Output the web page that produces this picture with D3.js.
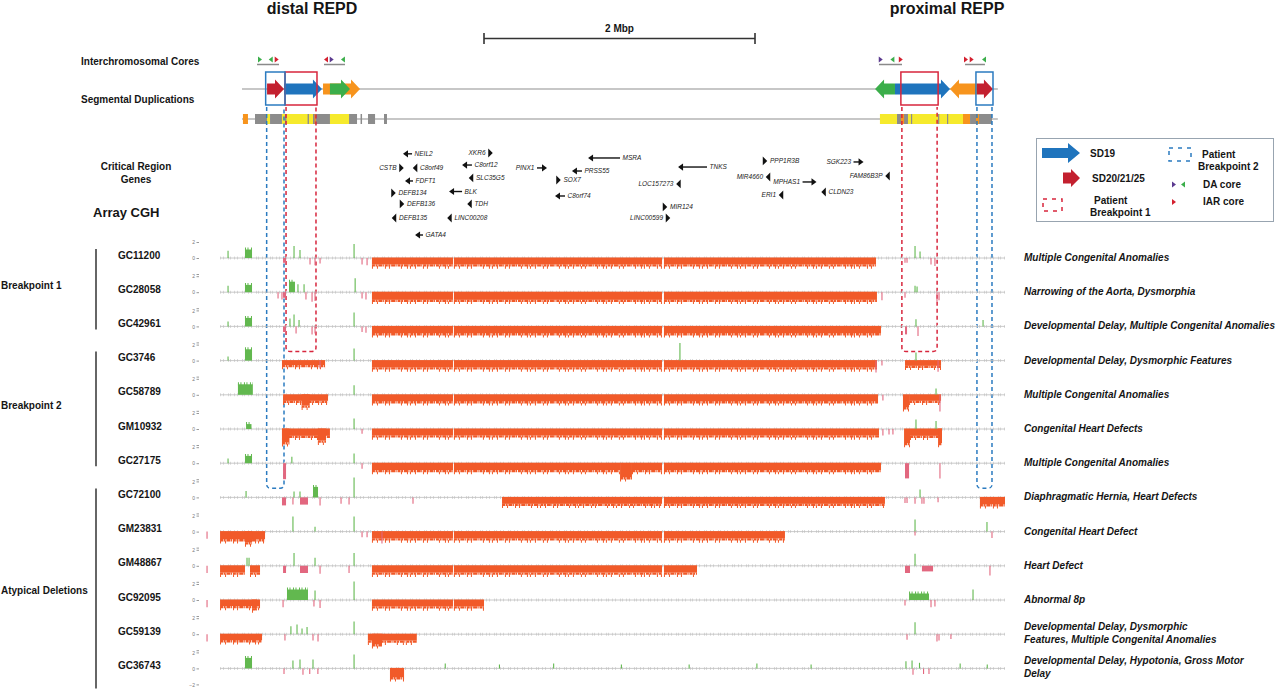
<!DOCTYPE html>
<html lang="en">
<head>
<meta charset="UTF-8">
<title>8p23.1 REPD / REPP breakpoints and array CGH</title>
<script src="https://d3js.org/d3.v7.min.js"></script>
<style>
  body { margin: 0; background: #fff; }
  svg { display: block; font-family: Arial, "Liberation Sans", sans-serif; }
  .lbl { font-weight: bold; fill: #151515; }
  .gene { font-style: italic; font-size: 6.5px; fill: #222; }
  .pheno { font-weight: bold; font-style: italic; font-size: 10px; fill: #151515; }
  .trk .tick text { font-size: 5px; fill: #777; }
  .trk .tick line { stroke: #999; }
</style>
</head>
<body>
<svg width="1280" height="693"></svg>
<script>
// ---- data (positions in Mb on chr8) ----
const scaleBar = [8.786, 10.786];
const backbone = [7.0, 12.578];

// segmental duplications: [start, end, direction, family]
const sdArrows = [
  [7.598, 7.871, 1, "orange"],
  [7.649, 7.797, 1, "green"],
  [7.185, 7.310, 1, "SD20/21/25"],
  [7.310, 7.590, 1, "SD19"],
  [11.672, 11.819, -1, "green"],
  [11.819, 12.225, 1, "SD19"],
  [12.225, 12.424, -1, "orange"],
  [12.424, 12.542, 1, "SD20/21/25"]
];

// duplicon blocks under the SD line: [start, end, kind]
const sdBlocks = [
  [7.007, 7.044, "o"], [7.096, 7.185, "g"], [7.185, 7.207, "y"], [7.207, 7.295, "g"],
  [7.295, 7.790, "y"], [7.317, 7.328, "g"], [7.484, 7.494, "g"], [7.524, 7.649, "g"],
  [7.535, 7.545, "o"], [7.790, 7.849, "g"], [7.875, 7.886, "g"], [7.930, 7.982, "g"],
  [8.048, 8.070, "g"],
  [11.708, 11.834, "y"], [11.834, 11.915, "g"], [11.863, 11.886, "o"], [11.915, 12.321, "y"],
  [11.937, 11.945, "g"], [12.137, 12.145, "g"], [12.203, 12.210, "g"], [12.321, 12.373, "o"],
  [12.373, 12.535, "g"], [12.417, 12.439, "o"]
];

// interchromosomal cores: [position, direction, type]
const cores = [
  [7.133, 1, "DAg"], [7.212, -1, "DAg"], [7.256, 1, "IAR"],
  [7.620, -1, "IAR"], [7.662, 1, "DAp"], [7.745, -1, "DAg"],
  [11.714, 1, "DAp"], [11.800, -1, "DAg"], [11.862, 1, "IAR"],
  [12.343, 1, "IAR"], [12.385, 1, "IAR"], [12.476, -1, "DAg"]
];
const coreGroups = [[7.111, 7.273], [7.605, 7.760], [11.701, 11.871], [12.336, 12.483]];

// patient breakpoint intervals (distal, proximal)
const bp1 = [[7.325, 7.546], [11.870, 12.130]];
const bp2 = [[7.182, 7.310], [12.424, 12.535]];

// critical region genes: [name, strand, start, end, lane, label side]
const genes = [
  ["NEIL2", -1, 8.188, 8.255, 0.1, "R"], ["XKR6", 1, 8.834, 8.834, 0, "L"],
  ["CSTB", 1, 8.177, 8.177, 1.8, "L"], ["C8orf49", -1, 8.277, 8.277, 1.8, "R"],
  ["C8orf12", -1, 8.624, 8.697, 1.45, "R"], ["FDFT1", -1, 8.203, 8.262, 3.37, "R"],
  ["SLC35G5", -1, 8.690, 8.690, 3.0, "R"], ["DEFB134", 1, 8.118, 8.118, 4.82, "R"],
  ["BLK", -1, 8.528, 8.624, 4.64, "R"], ["DEFB136", 1, 8.181, 8.181, 6.14, "R"],
  ["TDH", -1, 8.679, 8.679, 6.14, "R"], ["DEFB135", -1, 8.122, 8.122, 7.83, "R"],
  ["LINC00208", -1, 8.531, 8.531, 7.83, "R"], ["GATA4", -1, 8.277, 8.336, 9.88, "R"],
  ["PINX1", 1, 9.177, 9.251, 1.8, "L"], ["MSRA", -1, 9.554, 9.790, 0.6, "R"],
  ["PRSS55", -1, 9.435, 9.509, 2.17, "R"], ["SOX7", 1, 9.336, 9.336, 3.25, "R"],
  ["C8orf74", -1, 9.310, 9.384, 5.18, "R"], ["TNKS", -1, 10.218, 10.432, 1.69, "R"],
  ["LOC157273", -1, 10.221, 10.221, 3.73, "L"], ["MIR124", 1, 10.122, 10.122, 6.5, "R"],
  ["LINC00599", 1, 10.144, 10.144, 7.83, "L"], ["PPP1R3B", 1, 10.860, 10.860, 0.96, "R"],
  ["MIR4660", -1, 10.882, 10.882, 2.89, "L"], ["MPHAS1", 1, 11.137, 11.240, 3.49, "L"],
  ["ERI1", -1, 10.978, 10.978, 5.06, "L"], ["SGK223", 1, 11.513, 11.587, 1.08, "L"],
  ["FAM86B3P", -1, 11.764, 11.764, 2.77, "L"], ["CLDN23", -1, 11.292, 11.292, 4.7, "R"]
];

// array CGH samples
const samples = ["GC11200", "GC28058", "GC42961", "GC3746", "GC58789", "GM10932", "GC27175",
  "GC72100", "GM23831", "GM48867", "GC92095", "GC59139", "GC36743"];
const cohort = ["Breakpoint 1", "Breakpoint 1", "Breakpoint 1",
  "Breakpoint 2", "Breakpoint 2", "Breakpoint 2", "Breakpoint 2",
  "Atypical Deletions", "Atypical Deletions", "Atypical Deletions", "Atypical Deletions",
  "Atypical Deletions", "Atypical Deletions"];
const phenotypes = [
  ["Multiple Congenital Anomalies"],
  ["Narrowing of the Aorta, Dysmorphia"],
  ["Developmental Delay, Multiple Congenital Anomalies"],
  ["Developmental Delay, Dysmorphic Features"],
  ["Multiple Congenital Anomalies"],
  ["Congenital Heart Defects"],
  ["Multiple Congenital Anomalies"],
  ["Diaphragmatic Hernia, Heart Defects"],
  ["Congenital Heart Defect"],
  ["Heart Defect"],
  ["Abnormal 8p"],
  ["Developmental Delay, Dysmorphic", "Features, Multiple Congenital Anomalies"],
  ["Developmental Delay, Hypotonia, Gross Motor", "Delay"]
];
const probeRange = [6.838, 12.631];

// deletions (log2 ratio < 0): [start, end, log2]
const deletions = {
  GC11200: [[7.959, 8.557, -1.05], [8.564, 10.100, -1.05], [10.114, 11.679, -1.05]],
  GC28058: [[7.959, 8.557, -1.2], [8.564, 10.100, -1.2], [10.114, 11.686, -1.2]],
  GC42961: [[7.959, 8.557, -1.1], [8.564, 10.100, -1.1], [10.114, 11.716, -1.1]],
  GC3746: [[7.295, 7.613, -0.8], [7.959, 8.557, -1.1], [8.564, 10.100, -1.1], [10.114, 11.686, -1.1], [11.893, 12.159, -0.9]],
  GC58789: [[7.303, 7.635, -1.0], [7.440, 7.500, -1.6], [7.959, 8.557, -1.05], [8.564, 10.100, -1.05], [10.114, 11.694, -1.05], [11.878, 11.923, -1.8], [11.923, 12.159, -1.0]],
  GM10932: [[7.295, 7.649, -1.1], [7.295, 7.350, -1.9], [7.560, 7.620, -1.7], [7.959, 8.557, -1.05], [8.564, 10.100, -1.05], [10.114, 11.701, -1.05], [11.886, 11.930, -2.0], [11.930, 12.166, -1.1], [12.137, 12.166, -2.0]],
  GC27175: [[7.959, 8.557, -1.1], [8.564, 9.790, -1.1], [9.790, 9.878, -2.0], [9.878, 10.100, -1.1], [10.114, 11.716, -1.1]],
  GC72100: [[8.919, 10.100, -1.05], [10.114, 11.745, -1.05], [12.446, 12.631, -1.1]],
  GM23831: [[6.838, 7.170, -1.2], [7.022, 7.074, -1.6], [7.959, 8.557, -1.1], [8.564, 10.100, -1.1], [10.114, 11.007, -1.1]],
  GM48867: [[6.838, 7.022, -1.1], [7.059, 7.133, -1.1], [7.959, 8.557, -1.1], [8.564, 10.100, -1.1], [10.114, 10.358, -1.1]],
  GC92095: [[6.838, 7.133, -1.0], [7.074, 7.110, -1.3], [7.959, 8.557, -1.05], [8.564, 8.786, -1.05]],
  GC59139: [[6.838, 7.148, -1.0], [7.929, 8.290, -1.05], [7.959, 8.033, -1.5]],
  GC36743: [[8.092, 8.196, -1.35]]
};

// gained probe clusters: [start, end, log2]
const gains = {
  GC11200: [[7.022, 7.074, 1.25]],
  GC28058: [[7.022, 7.074, 1.1], [7.347, 7.391, 1.5]],
  GC42961: [[7.022, 7.074, 1.25]],
  GC3746: [[7.022, 7.074, 1.6]],
  GC58789: [[6.970, 7.080, 1.5]],
  GM10932: [[7.030, 7.070, 0.8]],
  GC27175: [[7.022, 7.074, 1.1]],
  GC72100: [[7.524, 7.561, 1.5]],
  GC92095: [[7.332, 7.487, 1.5], [11.923, 12.070, 1.0]],
  GC36743: [[7.022, 7.074, 1.5]]
};

// lost probe clusters outside the main deletion: [start, end, log2]
const losses = {
  GC11200: [[7.303, 7.325, -0.6]],
  GC28058: [[7.303, 7.325, -0.7]],
  GC42961: [[7.303, 7.325, -0.7], [11.893, 11.908, -1.0]],
  GC27175: [[7.303, 7.325, -2.0], [11.893, 11.923, -1.9]],
  GC72100: [[7.295, 7.325, -1.0], [7.428, 7.487, -0.9]],
  GM48867: [[7.303, 7.325, -0.9], [7.428, 7.487, -0.9], [11.893, 11.930, -0.9], [12.018, 12.100, -0.7]]
};

// single outlier probes: [position, log2]
const probes = {
  GC11200: [[6.897, 0.9], [7.384, 1.5], [7.428, 1.0], [7.502, -0.8], [7.539, -0.9], [7.576, -0.7], [7.827, 1.75], [7.886, -0.8], [7.923, -0.9], [11.893, -0.6], [11.908, -0.6], [11.967, 1.5], [12.004, 0.8], [12.085, -0.8], [12.114, -1.0]],
  GC28058: [[6.897, 0.8], [7.266, -0.8], [7.295, -0.9], [7.413, 1.0], [7.458, 1.0], [7.472, -0.9], [7.517, -1.2], [7.539, -1.1], [7.835, 1.75], [7.886, -0.8], [7.915, -0.9], [11.723, -1.0], [11.893, -0.7], [11.967, 0.8], [11.982, 0.7], [12.129, -1.2], [12.144, -1.0]],
  GC42961: [[6.897, 0.6], [7.354, 1.0], [7.384, 1.5], [7.399, -0.9], [7.421, 0.8], [7.517, -1.0], [7.539, -0.9], [7.827, 1.75], [7.886, -0.7], [7.915, -0.8], [11.974, 0.9], [11.989, -1.2], [12.469, 0.8]],
  GC3746: [[6.897, 0.5], [7.576, -1.0], [7.827, 1.5], [10.232, 2.2], [11.679, -1.5], [11.723, -0.6], [11.974, 1.0], [12.137, -1.4]],
  GC58789: [[7.827, 1.2], [11.730, -0.7], [12.122, 0.8], [12.151, -2.1]],
  GM10932: [[7.827, 1.3], [7.886, -0.6], [11.730, -0.8], [11.775, -0.7], [11.804, -0.7], [11.974, 1.2], [12.122, 1.0]],
  GC27175: [[6.897, 0.6], [7.368, 0.8], [7.827, 1.2], [7.886, -0.7], [12.151, -1.9]],
  GC72100: [[7.030, 0.8], [7.376, -0.9], [7.384, 0.75], [7.428, 0.75], [7.576, -1.0], [7.731, -0.8], [7.790, -0.9], [7.827, 2.5], [8.262, -0.8], [11.893, -0.7], [11.908, -0.7], [11.967, -0.8], [12.004, 1.0], [12.018, -0.8], [12.033, -0.8], [12.137, -0.6]],
  GM23831: [[6.742, -0.9], [7.376, 1.9], [7.539, 0.6], [7.827, 1.9], [7.886, -0.7], [7.923, -0.7], [8.033, -1.5], [11.967, 1.5], [11.967, -0.5], [12.498, 1.2], [12.535, -0.8]],
  GM48867: [[6.742, -0.9], [7.037, 1.0], [7.052, 1.0], [7.384, 1.6], [7.539, 1.0], [7.576, -1.0], [7.790, -0.9], [7.827, 1.6], [11.967, 1.5], [12.520, -1.2]],
  GC92095: [[6.742, -0.9], [7.303, -0.9], [7.531, -0.8], [7.539, 1.2], [7.576, -1.0], [7.827, 2.3], [11.893, -0.7], [12.085, -0.9], [12.114, -0.8], [12.395, 1.3]],
  GC59139: [[6.742, -0.9], [7.317, -0.8], [7.361, 1.0], [7.406, 1.2], [7.443, 0.7], [7.480, 0.9], [7.524, -0.8], [7.561, -0.9], [7.827, 1.6], [11.908, -0.7], [11.967, 1.5], [12.129, -0.9], [12.144, -0.8], [12.232, -0.6]],
  GC36743: [[7.310, -0.7], [7.376, 1.0], [7.428, 1.1], [7.450, -0.8], [7.500, -0.7], [7.524, 1.1], [7.560, -0.7], [7.827, 1.75], [8.5, 0.6], [8.9, 0.5], [9.3, 0.6], [9.8, 0.5], [10.3, 0.5], [10.8, 0.6], [11.2, 0.5], [11.9, 0.9], [11.945, 1.0], [11.952, -0.8], [12.0, 0.7], [12.03, -0.7], [12.07, -0.7], [12.3, 0.6], [12.5, 0.5]]
};

// ---- drawing ----
const col = {
  SD19: "#1f74bd", "SD20/21/25": "#c3202f", green: "#3bae4a", orange: "#f7941d",
  y: "#f6ea2c", g: "#8c8c8c", o: "#f7941d",
  DAg: "#3bae4a", DAp: "#5b3a8f", IAR: "#d4202f",
  del: "#f15a29", gain: "#62b84f", loss: "#e2677f",
  blue: "#2b7bc0", red: "#d7263d"
};

const svg = d3.select("svg");
svg.append("rect").attr("width", 1280).attr("height", 693).attr("fill", "#fff");

const x = d3.scaleLinear().domain([7.0, 12.6]).range([242, 1000.8]);
const yTrack = d3.scalePoint().domain(samples).range([258, 668.4]);
const v = d3.scaleLinear().domain([-2, 2]).range([16, -16]);
const laneY = d3.scaleLinear().domain([0, 10]).range([153, 236]);

function arrowPx(x0, x1, dir, cy, bh, hh, hl) {
  const L = Math.min(hl, (x1 - x0) * 0.7);
  if (dir > 0) return `M${x0},${cy - bh}H${x1 - L}V${cy - hh}L${x1},${cy}L${x1 - L},${cy + hh}V${cy + bh}H${x0}Z`;
  return `M${x1},${cy - bh}H${x0 + L}V${cy - hh}L${x0},${cy}L${x0 + L},${cy + hh}V${cy + bh}H${x1}Z`;
}
function tri(cx, cy, dir, w, h) {
  return `M${cx - dir * w / 2},${cy - h}L${cx + dir * w / 2},${cy}L${cx - dir * w / 2},${cy + h}Z`;
}

// titles
svg.append("text").attr("class", "lbl").attr("x", 312).attr("y", 14).attr("text-anchor", "middle")
  .attr("font-size", 16).text("distal REPD");
svg.append("text").attr("class", "lbl").attr("x", 947).attr("y", 14).attr("text-anchor", "middle")
  .attr("font-size", 16).text("proximal REPP");

// scale bar
const sb = svg.append("g").attr("stroke", "#333").attr("stroke-width", 1.6);
sb.append("line").attr("x1", x(scaleBar[0])).attr("x2", x(scaleBar[1])).attr("y1", 38.5).attr("y2", 38.5);
scaleBar.forEach(p => sb.append("line").attr("x1", x(p)).attr("x2", x(p)).attr("y1", 33).attr("y2", 44));
svg.append("text").attr("class", "lbl").attr("x", (x(scaleBar[0]) + x(scaleBar[1])) / 2).attr("y", 32)
  .attr("text-anchor", "middle").attr("font-size", 10).text("2 Mbp");

// row labels
svg.append("text").attr("class", "lbl").attr("x", 81).attr("y", 65).attr("font-size", 10).text("Interchromosomal Cores");
svg.append("text").attr("class", "lbl").attr("x", 81).attr("y", 103).attr("font-size", 10).text("Segmental Duplications");
svg.append("text").attr("class", "lbl").attr("x", 136).attr("y", 170).attr("text-anchor", "middle").attr("font-size", 10).text("Critical Region");
svg.append("text").attr("class", "lbl").attr("x", 136).attr("y", 183).attr("text-anchor", "middle").attr("font-size", 10).text("Genes");
svg.append("text").attr("class", "lbl").attr("x", 93).attr("y", 217).attr("font-size", 13).text("Array CGH");

// cores
svg.append("g").selectAll("line").data(coreGroups).join("line")
  .attr("x1", d => x(d[0])).attr("x2", d => x(d[1])).attr("y1", 64.5).attr("y2", 64.5)
  .attr("stroke", "#8a8a8a").attr("stroke-width", 1.5);
svg.append("g").selectAll("path").data(cores).join("path")
  .attr("d", d => tri(x(d[0]), 59.5, d[1], 4, 3))
  .attr("fill", d => col[d[2]]);

// SD backbone + arrows
const sdY = 89;
svg.append("line").attr("x1", x(backbone[0])).attr("x2", x(backbone[1])).attr("y1", sdY).attr("y2", sdY)
  .attr("stroke", "#8f8f8f").attr("stroke-width", 1.2);
svg.append("g").selectAll("path").data(sdArrows).join("path")
  .attr("d", d => arrowPx(x(d[0]), x(d[1]), d[2], sdY, 5.5, 9.5, 9))
  .attr("fill", d => col[d[3]]);

// duplicon blocks line
const blY = 119;
svg.append("line").attr("x1", x(backbone[0])).attr("x2", x(backbone[1])).attr("y1", blY).attr("y2", blY)
  .attr("stroke", "#8f8f8f").attr("stroke-width", 1.2);
svg.append("g").selectAll("rect").data(sdBlocks).join("rect")
  .attr("x", d => x(d[0])).attr("width", d => Math.max(1.2, x(d[1]) - x(d[0])))
  .attr("y", blY - 5).attr("height", 10).attr("fill", d => col[d[2]]);

// breakpoint boxes (solid around SDs, dashed through tracks)
const samplesOf = g => samples.filter((s, i) => cohort[i] === g);
function bpBoxes(intervals, color, lastSample) {
  const bottom = yTrack(lastSample) + 25;
  const gB = svg.append("g").attr("fill", "none").attr("stroke", color).attr("stroke-width", 1.5);
  intervals.forEach(([s, e]) => {
    const x0 = x(s), x1 = x(e);
    gB.append("rect").attr("x", x0 - 1).attr("y", 72).attr("width", x1 - x0 + 2).attr("height", 33);
    gB.append("path")
      .attr("d", `M${x0},107V${bottom - 4}Q${x0},${bottom} ${x0 + 4},${bottom}H${x1 - 4}Q${x1},${bottom} ${x1},${bottom - 4}V107`)
      .attr("stroke-dasharray", "4 3");
  });
}
const bp1s = samplesOf("Breakpoint 1"), bp2s = samplesOf("Breakpoint 2");
bpBoxes(bp1, col.red, bp1s[bp1s.length - 1]);
bpBoxes(bp2, col.blue, bp2s[bp2s.length - 1]);

// genes
const gG = svg.append("g");
genes.forEach(([name, strand, s, e, lane, side]) => {
  const cy = laneY(lane);
  let left, right;
  if (e > s) {
    const x0 = x(s), x1 = x(e);
    const tip = strand > 0 ? x1 : x0, tail = strand > 0 ? x0 : x1;
    gG.append("line").attr("x1", tail).attr("x2", tip - strand * 4).attr("y1", cy).attr("y2", cy)
      .attr("stroke", "#111").attr("stroke-width", 1.4);
    gG.append("path").attr("d", tri(tip - strand * 2.5, cy, strand, 5, 3.6)).attr("fill", "#111");
    left = x0; right = x1;
  } else {
    const cx = x(s);
    gG.append("path").attr("d", tri(cx, cy, strand, 4.5, 4.4)).attr("fill", "#111");
    left = cx - 2.5; right = cx + 2.5;
  }
  gG.append("text").attr("class", "gene")
    .attr("x", side === "R" ? right + 2.5 : left - 2.5).attr("y", cy + 2.3)
    .attr("text-anchor", side === "R" ? "start" : "end").text(name);
});

// legend
const lg = svg.append("g");
lg.append("rect").attr("x", 1036.5).attr("y", 138.5).attr("width", 237).attr("height", 83)
  .attr("fill", "#fff").attr("stroke", "#98a4b0").attr("stroke-width", 1);
lg.append("path").attr("d", arrowPx(1042, 1080, 1, 153, 5, 10, 12)).attr("fill", col.SD19);
lg.append("path").attr("d", arrowPx(1063, 1080, 1, 178, 5.5, 9, 9)).attr("fill", col["SD20/21/25"]);
lg.append("rect").attr("x", 1043).attr("y", 199).attr("width", 19).attr("height", 12)
  .attr("fill", "none").attr("stroke", col.red).attr("stroke-width", 1.5).attr("stroke-dasharray", "4 5");
lg.append("rect").attr("x", 1169).attr("y", 148).attr("width", 22).attr("height", 13)
  .attr("fill", "none").attr("stroke", col.blue).attr("stroke-width", 1.5).attr("stroke-dasharray", "4 5");
lg.append("path").attr("d", tri(1174, 184.5, 1, 4, 3)).attr("fill", col.DAp);
lg.append("path").attr("d", tri(1183, 184.5, -1, 4, 3)).attr("fill", col.DAg);
lg.append("path").attr("d", tri(1174, 202, 1, 4, 3)).attr("fill", col.IAR);
[["SD19", 1090, 157], ["SD20/21/25", 1092, 182], ["Patient", 1094, 204], ["Breakpoint 1", 1090, 216],
 ["Patient", 1202, 158], ["Breakpoint 2", 1198, 170], ["DA core", 1203, 188], ["IAR core", 1203, 205]]
  .forEach(([t, tx, ty]) => lg.append("text").attr("class", "lbl").attr("x", tx).attr("y", ty)
    .attr("font-size", 10).text(t));

// cohort brackets
["Breakpoint 1", "Breakpoint 2", "Atypical Deletions"].forEach(g => {
  const ss = samplesOf(g);
  const last = g === "Atypical Deletions";
  const top = yTrack(ss[0]) - 9;
  const bot = yTrack(ss[ss.length - 1]) + (last ? 20 : 3);
  svg.append("line").attr("x1", 96).attr("x2", 96).attr("y1", top).attr("y2", bot)
    .attr("stroke", "#333").attr("stroke-width", 1.5);
  svg.append("text").attr("class", "lbl").attr("x", 1).attr("y", (top + bot) / 2 + (last ? 6 : 0))
    .attr("font-size", 10).text(g);
});

// tracks
samples.forEach((s, i) => {
  const y0 = yTrack(s);
  const g = svg.append("g").attr("class", "trk");

  g.append("text").attr("class", "lbl").attr("x", 118).attr("y", y0 + 0.5).attr("font-size", 10).text(s);
  phenotypes[i].forEach((t, k) => g.append("text").attr("class", "pheno")
    .attr("x", 1024).attr("y", y0 + 3 - (phenotypes[i].length - 1) * 7 + k * 13).text(t));

  const ax = g.append("g").attr("transform", `translate(199,${y0})`)
    .call(d3.axisLeft(v).tickValues([-2, 0, 2]).tickSize(2.5).tickPadding(1.5).tickFormat(d3.format("d")));
  ax.select(".domain").remove();
  // the -2 label would sit on the next track's 2 label; keep it only on the last track
  if (i < samples.length - 1) ax.selectAll(".tick text").filter(d => d < 0).remove();

  // probe noise around zero
  g.append("line").attr("x1", x(probeRange[0])).attr("x2", x(probeRange[1])).attr("y1", y0).attr("y2", y0)
    .attr("stroke", "#dadada").attr("stroke-width", 3).attr("stroke-dasharray", "1 2 1 4 1 1 1 3");
  g.append("line").attr("x1", x(probeRange[0])).attr("x2", x(probeRange[1])).attr("y1", y0).attr("y2", y0)
    .attr("stroke", "#bdbdbd").attr("stroke-width", 0.8);

  (gains[s] || []).forEach(([a, b, val]) => {
    g.append("rect").attr("x", x(a)).attr("width", x(b) - x(a)).attr("y", y0 + v(val) + 1.5)
      .attr("height", -v(val) - 1.5).attr("fill", col.gain);
    g.append("line").attr("x1", x(a)).attr("x2", x(b)).attr("y1", y0 + v(val) + 1).attr("y2", y0 + v(val) + 1)
      .attr("stroke", col.gain).attr("stroke-width", 3).attr("stroke-dasharray", "1 1.5 1 2.5");
  });
  (losses[s] || []).forEach(([a, b, val]) => {
    g.append("rect").attr("x", x(a)).attr("width", Math.max(1.5, x(b) - x(a))).attr("y", y0)
      .attr("height", v(val)).attr("fill", col.loss);
  });
  (deletions[s] || []).forEach(([a, b, val]) => {
    const d = v(val) - 2;
    g.append("rect").attr("x", x(a)).attr("width", x(b) - x(a)).attr("y", y0 - 0.5)
      .attr("height", d + 0.5).attr("fill", col.del);
    // ragged lower edge of the probe cloud
    g.append("line").attr("x1", x(a)).attr("x2", x(b)).attr("y1", y0 + d + 1).attr("y2", y0 + d + 1)
      .attr("stroke", col.del).attr("stroke-width", 2.4).attr("stroke-dasharray", "3 0.6 2 0.8 4 0.5 1 0.9");
    g.append("line").attr("x1", x(a)).attr("x2", x(b)).attr("y1", y0 + d + 3).attr("y2", y0 + d + 3)
      .attr("stroke", col.del).attr("stroke-width", 2.6).attr("stroke-dasharray", "1 4 1 7 1 3 1 11 1 5 1 2");
  });
  g.selectAll(".pr").data(probes[s] || []).join("line").attr("class", "pr")
    .attr("x1", d => x(d[0])).attr("x2", d => x(d[0]))
    .attr("y1", y0).attr("y2", d => y0 + v(d[1]))
    .attr("stroke", d => d[1] > 0 ? col.gain : col.loss).attr("stroke-width", 1.1);
});
</script>
</body>
</html>
